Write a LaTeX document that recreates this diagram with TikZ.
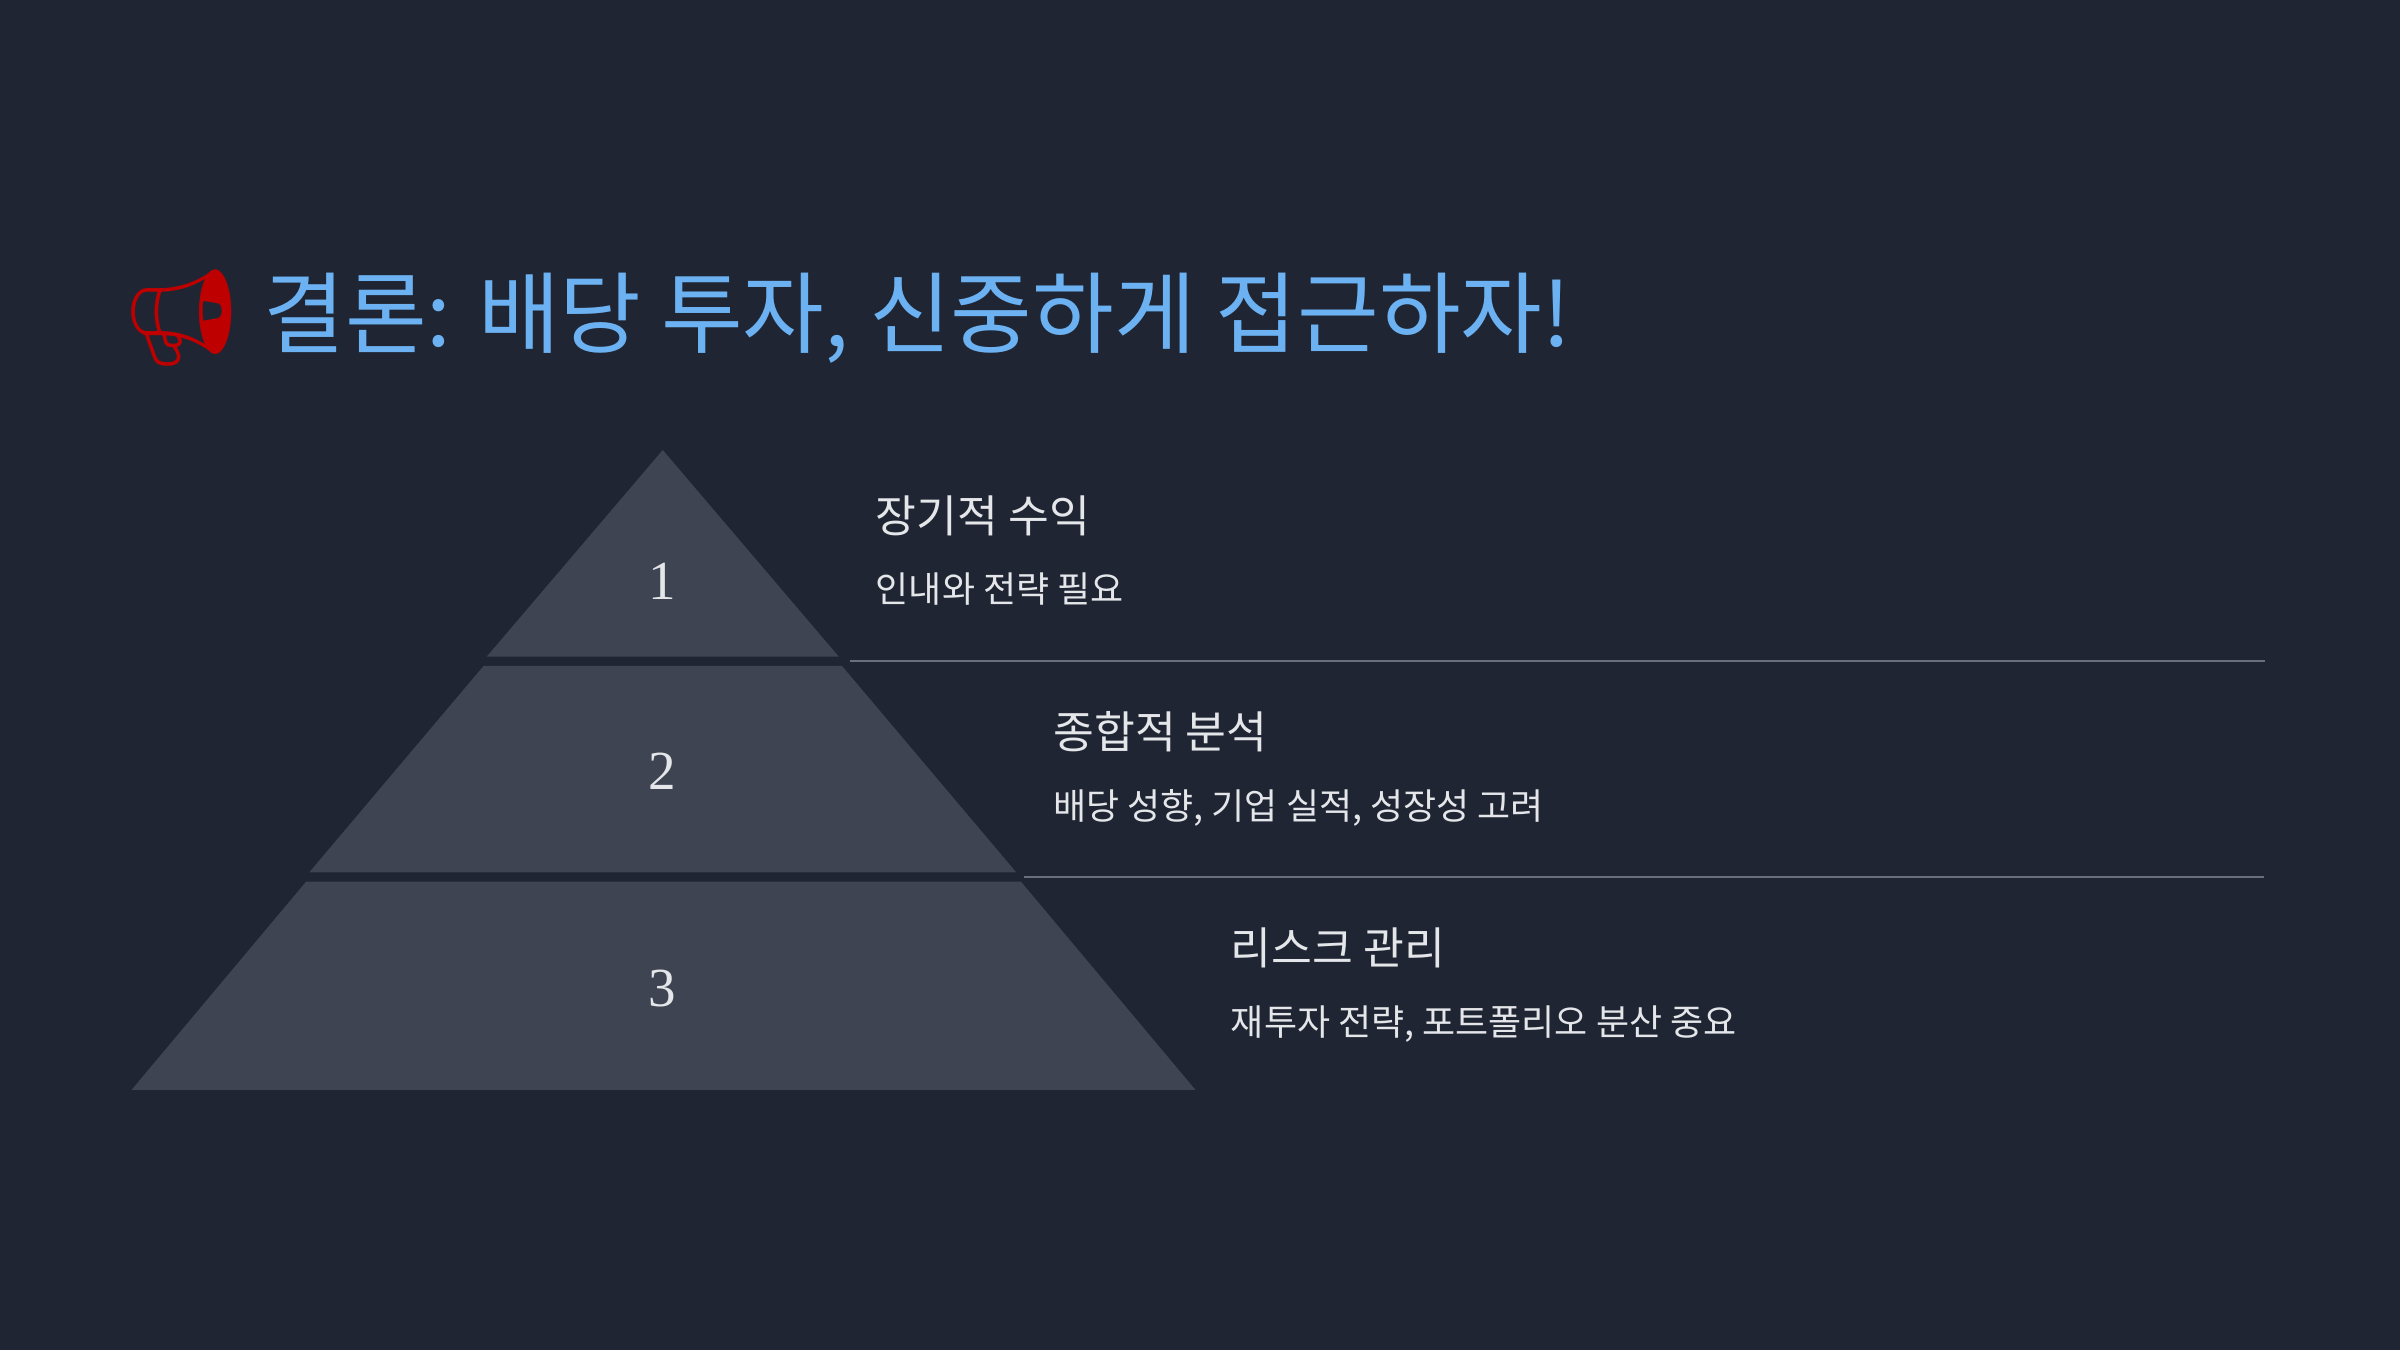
\documentclass[tikz,border=0pt]{standalone}
\usepackage{fontspec}
\setmainfont{Noto Sans CJK KR}
\newfontfamily\emo{Noto Emoji}
\newfontfamily\numf{Liberation Serif}
\definecolor{bg}{HTML}{1F2532}
\definecolor{tier}{HTML}{3E4451}
\definecolor{ttl}{HTML}{6CB2F2}
\definecolor{txt}{HTML}{E4E6EA}
\definecolor{rule}{HTML}{6A6F7A}
\begin{document}
\begin{tikzpicture}[x=1pt,y=-1pt,
  num/.style={text=txt,font=\numf\fontsize{36}{40}\selectfont},
  head/.style={anchor=west,text=txt,font=\fontsize{29}{32}\selectfont,inner sep=0},
  sub/.style={anchor=west,text=txt,font=\fontsize{23.5}{26}\selectfont,inner sep=0},
  sep/.style={draw=rule,line width=1pt}]
\fill[bg] (0,0) rectangle (1568,882);
\useasboundingbox (0,0) rectangle (1568,882);
\fill[tier] (433,294) -- (548,429) -- (318,429) -- cycle;
\fill[tier] (316,435) -- (550,435) -- (664,570) -- (202,570) -- cycle;
\fill[tier] (200,576) -- (667,576) -- (781,712) -- (86,712) -- cycle;
\node[num] (n1) at (433,380) {1};
\node[num] (n2) at (433,504) {2};
\node[num] (n3) at (433,646) {3};
\coordinate (a1) at (555,432); \coordinate (b1) at (1480,432);
\coordinate (a2) at (669,573); \coordinate (b2) at (1479,573);
\draw[sep] (a1) -- (b1);
\draw[sep] (a2) -- (b2);
\node[anchor=center,text=red!75!black,font=\emo\fontsize{62}{66}\selectfont] (em) at (119,208) {📢};
\node[anchor=west,text=ttl,font=\fontsize{58}{64}\selectfont,inner sep=0] (t) at (172,208) {결론: 배당 투자, 신중하게 접근하자!};
\node[head] (h1) at (572,337) {장기적 수익};
\node[sub] (s1) at (572,385) {인내와 전략 필요};
\node[head] (h2) at (688,478) {종합적 분석};
\node[sub] (s2) at (688,528) {배당 성향, 기업 실적, 성장성 고려};
\node[head] (h3) at (804,619) {리스크 관리};
\node[sub] (s3) at (804,669) {재투자 전략, 포트폴리오 분산 중요};
\end{tikzpicture}
\end{document}
